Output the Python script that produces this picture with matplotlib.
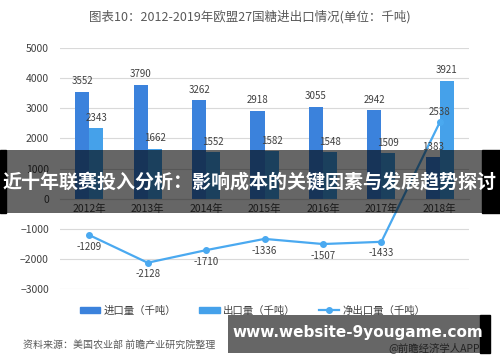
import numpy as np
import matplotlib.pyplot as plt
from matplotlib.patches import Rectangle
from matplotlib.lines import Line2D

plt.rcParams['font.family'] = ['Noto Sans CJK SC', 'DejaVu Sans']

# -------------------------------
# Data
# -------------------------------
years = ["2012年", "2013年", "2014年", "2015年", "2016年", "2017年", "2018年"]
imports = [3552, 3790, 3262, 2918, 3055, 2942, 1383]
exports = [2343, 1662, 1552, 1582, 1548, 1509, 3921]
net_exports = [-1209, -2128, -1710, -1336, -1507, -1433, 2538]

IMPORT_COLOR = "#3B82DC"
EXPORT_COLOR = "#45A1EA"
NET_COLOR = "#4AA9F0"
TEXT_COLOR = "#404040"

fig = plt.figure(figsize=(5, 3.62), dpi=100)
ax = fig.add_axes([0.12, 0.2017, 0.818, 0.6653])

x = np.arange(len(years))
w = 0.24
ax.bar(x - w / 2, imports, w, color=IMPORT_COLOR, zorder=2)
ax.bar(x + w / 2, exports, w, color=EXPORT_COLOR, zorder=2)
ax.plot(x, net_exports, color=NET_COLOR, lw=1.6, marker="o", ms=4, zorder=3)

for i in range(len(years)):
    ax.text(x[i] - w / 2, imports[i] + 180, str(imports[i]), ha="center",
            va="bottom", fontsize=7, color=TEXT_COLOR)
    ax.text(x[i] + w / 2, exports[i] + 180, str(exports[i]), ha="center",
            va="bottom", fontsize=7, color=TEXT_COLOR)
    if net_exports[i] > 0:
        ax.text(x[i], net_exports[i] + 180, str(net_exports[i]), ha="center",
                va="bottom", fontsize=7, color=TEXT_COLOR)
    else:
        ax.text(x[i], net_exports[i] - 220, str(net_exports[i]), ha="center",
                va="top", fontsize=7, color=TEXT_COLOR)

ax.set_xlim(-0.5, len(years) - 0.5)
ax.set_ylim(-3000, 5000)
ax.set_yticks(np.arange(-3000, 5001, 1000))
ax.grid(axis="y", color="#D9D9D9", lw=0.8, zorder=0)
for s in ["top", "right", "left"]:
    ax.spines[s].set_visible(False)
ax.spines["bottom"].set_position(("data", 0))
ax.spines["bottom"].set_color("#D9D9D9")
ax.set_xticks(x)
ax.set_xticklabels(years)
ax.tick_params(axis="both", length=0, labelsize=7.5, colors=TEXT_COLOR)
ax.tick_params(axis="y", pad=8)

fig.text(0.5, 0.955, "图表10：2012-2019年欧盟27国糖进出口情况(单位：千吨)",
         ha="center", va="center", fontsize=9, color="#595959")

handles = [
    Rectangle((0, 0), 1, 1, color=IMPORT_COLOR),
    Rectangle((0, 0), 1, 1, color=EXPORT_COLOR),
    Line2D([0], [0], color=NET_COLOR, lw=1.6, marker="o", ms=4),
]
fig.legend(handles, ["进口量（千吨）", "出口量（千吨）", "净出口量（千吨）"],
           loc="center", bbox_to_anchor=(0.505, 0.142), ncol=3, frameon=False,
           fontsize=7.5, handlelength=2.0, handleheight=0.45,
           handletextpad=0.3, columnspacing=2.2, labelcolor=TEXT_COLOR)

fig.text(0.046, 0.047, "资料来源：美国农业部 前瞻产业研究院整理", ha="left",
         va="center", fontsize=7.2, color="#595959", style="italic")
fig.text(0.96, 0.041, "@前瞻经济学人APP", ha="right", va="center",
         fontsize=7.5, color="#595959")

# -------------------------------
# Overlay banners
# -------------------------------
band_y = 1 - 213 / 362
band_h = 63 / 362
fig.patches.append(Rectangle((6 / 500, band_y), 476 / 500, band_h,
                             transform=fig.transFigure, facecolor="black",
                             edgecolor="none", alpha=0.6, zorder=10))
fig.patches.append(Rectangle((0, band_y), 6 / 500, band_h,
                             transform=fig.transFigure, color="black", zorder=10))
fig.patches.append(Rectangle((482 / 500, band_y), 18 / 500, band_h,
                             transform=fig.transFigure, color="black", zorder=10))
fig.text(0.5, 1 - 182 / 362, "近十年联赛投入分析：影响成本的关键因素与发展趋势探讨",
         ha="center", va="center", fontsize=13.7, fontweight="bold",
         color="white", zorder=12)

fig.patches.append(Rectangle((228 / 500, 1 - 353 / 362), 252 / 500, 38 / 362,
                             transform=fig.transFigure, facecolor="black",
                             edgecolor="none", alpha=0.6, zorder=10))
fig.patches.append(Rectangle((480 / 500, 1 - 353 / 362), 10 / 500, 38 / 362,
                             transform=fig.transFigure, color="black", zorder=10))
fig.text(358 / 500, 1 - 333 / 362, "www.website-9yougame.com", ha="center",
         va="center", fontsize=11, fontweight="bold", color="white",
         family="DejaVu Sans", zorder=12)

plt.savefig("out.png", dpi=100)
plt.close()
